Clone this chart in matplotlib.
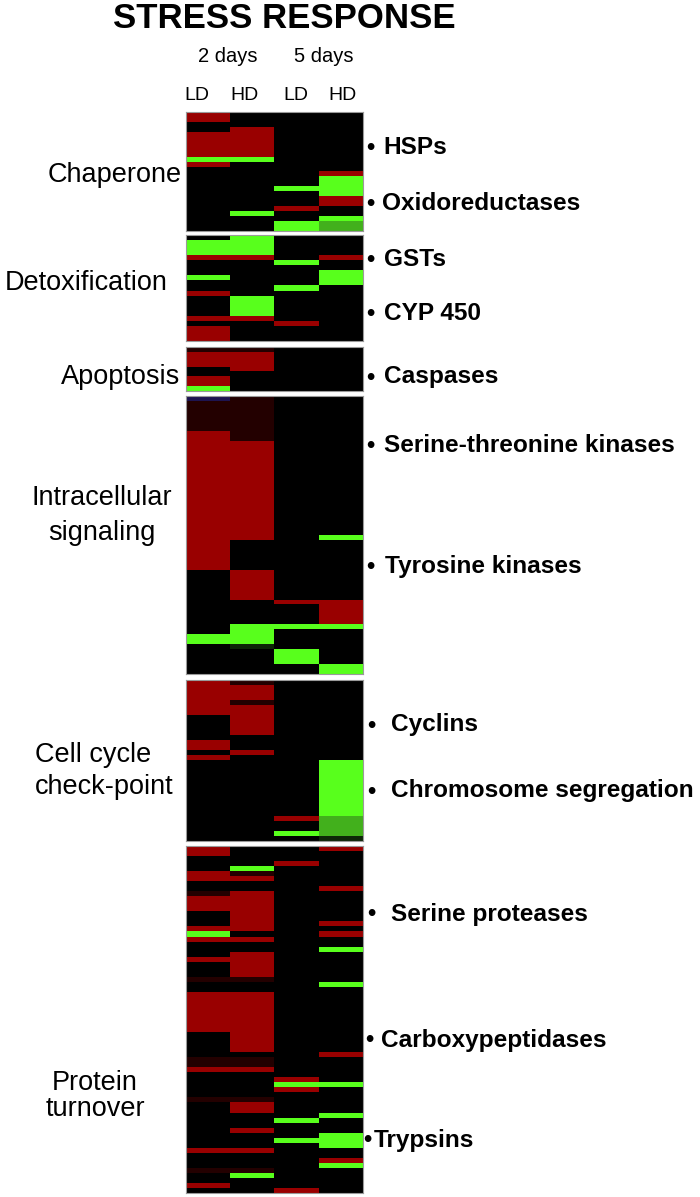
import numpy as np
import matplotlib
matplotlib.use('Agg')
import matplotlib.pyplot as plt
from matplotlib.colors import ListedColormap

plt.rcParams['font.family'] = ['Liberation Sans', 'DejaVu Sans']

# columns of every block: 2 days LD, 2 days HD, 5 days LD, 5 days HD
timepoints = ['2 days', '5 days']
conditions = ['LD', 'HD', 'LD', 'HD']

# run-length coded expression, one string per column, top to bottom
# k = no change, R = up, G = down, g = weakly down, d = weakly up, b = missing, e = faint down
chaperone = ['2R 2k 5R 1G 1R 13k',
             '3k 6R 1G 10k 1G 3k',
             '15k 1G 3k 1R 2k 2G',
             '12k 1R 4G 2R 2k 1G 2g']
detox = ['1k 3G 1R 3k 1G 2k 1R 4k 1R 1k 3R',
         '4G 1R 7k 4G 1R 4k',
         '5k 1G 4k 1G 6k 1R 3k',
         '4k 1R 2k 3G 11k']
apoptosis = ['1d 3R 2k 2R 1G',
             '1d 4R 4k',
             '9k',
             '9k']
signaling = ['1b 6d 28R 13k 2G 6k',
             '9d 20R 6k 6R 5k 4G 1e 5k',
             '41k 1R 4k 1G 4k 3G 2k',
             '28k 1G 12k 5R 1G 7k 2G']
cell_cycle = ['7R 5k 2R 1k 1R 16k',
              '1d 3R 1d 6R 3k 1R 17k',
              '27k 1R 2k 1G 1k',
              '16k 11G 4g 1e']
protein = ['2R 3k 2R 2k 1d 3R 3k 1R 1G 1R 3k 1R 3k 1d 2k 8R 5k 2d 1R 5k 1d 9k 1R 3k 1d 2k 1R 1k',
           '4k 1G 1d 1R 2k 8R 1k 1R 2k 5R 1d 2k 12R 1k 2d 1R 5k 1d 2R 3k 1R 3k 1R 3k 1d 1G 3k',
           '3k 1R 42k 1R 1G 1R 5k 1G 3k 1G 9k 1R',
           '1R 7k 1R 6k 1R 1k 1R 2k 1G 6k 1G 13k 1R 5k 1G 5k 1G 3k 3G 2k 1R 1G 5k']

blocks = [chaperone, detox, apoptosis, signaling, cell_cycle, protein]
categories = [['Chaperone'], ['Detoxification'], ['Apoptosis'],
              ['Intracellular', 'signaling'], ['Cell cycle', 'check-point'],
              ['Protein', 'turnover']]
families = ['HSPs', 'Oxidoreductases', 'GSTs', 'CYP 450', 'Caspases',
            'Serine-threonine kinases', 'Tyrosine kinases', 'Cyclins',
            'Chromosome segregation', 'Serine proteases', 'Carboxypeptidases',
            'Trypsins']

codes = 'kRGgdbe'
cmap = ListedColormap(['#000000', '#990000', '#58ff1c', '#42b01c',
                       '#230000', '#1e1450', '#0d2607'])


def decode(col):
    out = []
    for tok in col.split():
        out += [codes.index(tok[-1])] * int(tok[:-1])
    return out


W, H = 700, 1197
fig = plt.figure(figsize=(W / 100, H / 100), dpi=100)


def fx(x):
    return x / W


def fy(y):
    return 1 - y / H


# block extents in pixels (top, bottom)
spans = [(112, 231), (235, 341), (347, 391), (396, 674), (680, 841), (846, 1193)]
x0, x1 = 186, 363

for block, (top, bot) in zip(blocks, spans):
    ax = fig.add_axes([fx(x0), fy(bot), (x1 - x0) / W, (bot - top) / H])
    mat = np.array([decode(c) for c in block]).T
    ax.imshow(mat, cmap=cmap, vmin=-0.5, vmax=len(codes) - 0.5,
              aspect='auto', interpolation='nearest')
    ax.set_xticks([])
    ax.set_yticks([])
    for s in ax.spines.values():
        s.set_color('#9a9a9a')
        s.set_linewidth(0.8)

# title and column headers
fig.text(fx(284), fy(19), 'STRESS RESPONSE', ha='center', va='center',
         fontsize=25, fontweight='bold')
for t, xc in zip(timepoints, [228, 324]):
    fig.text(fx(xc), fy(57), t, ha='center', va='center', fontsize=14.5)
for c, xc in zip(conditions, [197, 245, 296, 343]):
    fig.text(fx(xc), fy(95), c, ha='center', va='center', fontsize=14)

# category labels on the left, one entry per text line
cat_pos = [(182, [175], 'right'), (168, [283], 'right'), (180, [377], 'right'),
           (102, [498, 533], 'center'), (35, [755, 787], 'left'),
           (95, [1083, 1109], 'center')]
for lines, (xc, ys, ha) in zip(categories, cat_pos):
    for line, yc in zip(lines, ys):
        fig.text(fx(xc), fy(yc), line, ha=ha, va='center', fontsize=19.5)

# gene family labels on the right
fam_y = [147, 204, 260, 313, 377, 445, 567, 725, 791, 914, 1040, 1140]
fam_dot = [370, 370, 370, 370, 370, 370, 370, 371, 371, 371, 369, 367]
fam_x = [383, 382, 384, 384, 384, 384, 385, 391, 391, 391, 381, 374]
for name, yc, xd, xt in zip(families, fam_y, fam_dot, fam_x):
    fig.text(fx(xd), fy(yc), '\u2022', ha='center', va='center',
             fontsize=17, fontweight='bold')
    fig.text(fx(xt), fy(yc), name, ha='left', va='center',
             fontsize=17.6, fontweight='bold')

fig.savefig('out.png', dpi=100, facecolor='white')
